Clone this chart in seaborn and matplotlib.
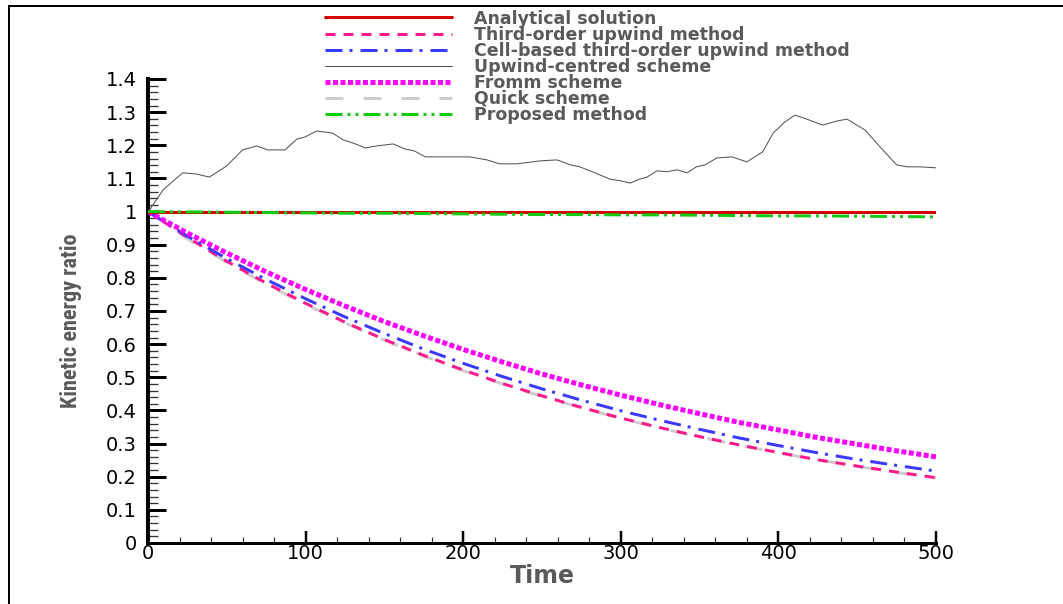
import numpy as np
import pandas as pd
import matplotlib
matplotlib.use("Agg")
import matplotlib.pyplot as plt
import seaborn as sns
from matplotlib.ticker import MultipleLocator, FixedLocator, FixedFormatter
from matplotlib.lines import Line2D
from matplotlib import font_manager

# ---------------- data ----------------
t_smooth = [0, 25, 50, 75, 100, 125, 150, 175, 200, 225, 250, 275, 300,
            325, 350, 375, 400, 425, 450, 475, 500]
analytical = [1.0] * len(t_smooth)
third_order = [1.0, 0.922, 0.850, 0.784, 0.723, 0.666, 0.614, 0.566, 0.522, 0.481,
               0.444, 0.409, 0.377, 0.348, 0.321, 0.296, 0.273, 0.251, 0.232, 0.214, 0.197]
cell_based = [1.0, 0.926, 0.858, 0.795, 0.737, 0.682, 0.632, 0.585, 0.542, 0.502,
              0.465, 0.431, 0.399, 0.370, 0.343, 0.317, 0.294, 0.272, 0.252, 0.234, 0.217]
fromm = [1.0, 0.935, 0.875, 0.818, 0.765, 0.715, 0.668, 0.625, 0.584, 0.546,
         0.510, 0.477, 0.446, 0.417, 0.390, 0.364, 0.341, 0.318, 0.298, 0.278, 0.260]
quick = [1.0, 0.918, 0.847, 0.781, 0.720, 0.664, 0.612, 0.564, 0.520, 0.480,
         0.442, 0.408, 0.376, 0.347, 0.320, 0.295, 0.272, 0.251, 0.231, 0.213, 0.196]
proposed = [1.0, 0.999, 0.998, 0.997, 0.996, 0.995, 0.995, 0.994, 0.993, 0.992,
            0.991, 0.991, 0.990, 0.990, 0.989, 0.988, 0.987, 0.987, 0.986, 0.985, 0.984]

t_upwind = [0, 1, 9.5, 22, 31, 39, 50, 60, 69, 76, 87, 94.5, 99.6, 107, 117, 124, 130,
            138, 145, 155.5, 163, 169, 176, 183, 193.5, 204, 215, 223, 234, 249, 259.5,
            268, 274, 282, 293, 299.5, 306, 312, 316.6, 323, 329, 335.7, 342, 348, 353.5,
            361, 370.5, 380, 390, 396.7, 404, 410.5, 418, 428, 437, 443.5, 455, 464.5,
            475, 481.6, 490, 500]
upwind_centred = [1.0, 1.005, 1.065, 1.117, 1.113, 1.104, 1.138, 1.186, 1.198, 1.186,
                  1.186, 1.219, 1.225, 1.243, 1.237, 1.216, 1.207, 1.192, 1.198, 1.204,
                  1.189, 1.183, 1.165, 1.165, 1.165, 1.165, 1.156, 1.144, 1.144, 1.153,
                  1.156, 1.141, 1.135, 1.120, 1.098, 1.093, 1.086, 1.098, 1.104, 1.123,
                  1.120, 1.126, 1.117, 1.135, 1.141, 1.162, 1.165, 1.150, 1.180, 1.237,
                  1.270, 1.291, 1.279, 1.261, 1.273, 1.279, 1.246, 1.195, 1.141, 1.135,
                  1.135, 1.132]

labels = ["Analytical solution", "Third-order upwind method",
          "Cell-based third-order upwind method", "Upwind-centred scheme",
          "Fromm scheme", "Quick scheme", "Proposed method"]

x_ticks = [0, 100, 200, 300, 400, 500]
x_tick_labels = ["0", "100", "200", "300", "400", "500"]
y_ticks = [0, 0.1, 0.2, 0.3, 0.4, 0.5, 0.6, 0.7, 0.8, 0.9, 1.0, 1.1, 1.2, 1.3, 1.4]
y_tick_labels = ["0", "0.1", "0.2", "0.3", "0.4", "0.5", "0.6", "0.7", "0.8", "0.9",
                 "1", "1.1", "1.2", "1.3", "1.4"]

# ---------------- style ----------------
sns.set_theme(style="white")
plt.rcParams["font.family"] = ["DejaVu Sans"]
plt.rcParams["lines.scale_dashes"] = False

# choose a condensed face for the y label if one is installed
entries = font_manager.fontManager.ttflist
names = {f.name for f in entries}
ylab_kw = dict(family=["Liberation Sans", "DejaVu Sans"], fontsize=13.3)
if "Liberation Sans Narrow" in names:
    ylab_kw = dict(family=["Liberation Sans Narrow", "DejaVu Sans"], fontsize=16)
elif "Roboto Condensed" in names:
    ylab_kw = dict(family=["Roboto Condensed", "DejaVu Sans"], fontsize=16)
elif any(f.name == "DejaVu Sans" and str(f.stretch) == "condensed" for f in entries):
    ylab_kw = dict(family=["DejaVu Sans"], fontsize=12.2, fontstretch="condensed")

txt_gray = "#5a5a5a"

fig = plt.figure(figsize=(10.63, 6.04), dpi=100)
fig.patch.set_facecolor("white")
ax = fig.add_axes([148 / 1063, 1 - 543 / 604, (936 - 148) / 1063, (543 - 79) / 604])
ax.set_facecolor("white")

smooth_df = pd.DataFrame({"t": t_smooth, "analytical": analytical, "third": third_order,
                          "cell": cell_based, "fromm": fromm, "quick": quick,
                          "proposed": proposed})
up_df = pd.DataFrame({"t": t_upwind, "v": upwind_centred})

px = 0.72  # points per pixel at 100 dpi
sns.lineplot(data=smooth_df, x="t", y="analytical", ax=ax, color="#d40000",
             lw=3 * px, label=labels[0], zorder=5)
sns.lineplot(data=smooth_df, x="t", y="third", ax=ax, color="#ff1a8c",
             lw=3 * px, linestyle=(0, (10 * px, 8 * px)), label=labels[1], zorder=4)
sns.lineplot(data=smooth_df, x="t", y="cell", ax=ax, color="#3a3aff",
             lw=3 * px, linestyle=(0, (17 * px, 7 * px, 3 * px, 8 * px)),
             label=labels[2], zorder=4)
sns.lineplot(data=up_df, x="t", y="v", ax=ax, color="#505050",
             lw=1.0 * px, label=labels[3], zorder=4)
sns.lineplot(data=smooth_df, x="t", y="fromm", ax=ax, color="#ff00ff",
             lw=5 * px, linestyle=(0, (5 * px, 2.5 * px)), label=labels[4], zorder=4)
sns.lineplot(data=smooth_df, x="t", y="quick", ax=ax, color="#cccccc",
             lw=3 * px, linestyle=(0, (18 * px, 20 * px)), label=labels[5], zorder=3)
sns.lineplot(data=smooth_df, x="t", y="proposed", ax=ax, color="#11cc11",
             lw=3 * px, linestyle=(0, (17 * px, 5 * px, 3 * px, 5 * px, 3 * px, 5 * px)),
             label=labels[6], zorder=6)

ax.set_xlim(0, 500)
ax.set_ylim(0, 1.4)
ax.xaxis.set_major_locator(FixedLocator(x_ticks))
ax.xaxis.set_major_formatter(FixedFormatter(x_tick_labels))
ax.yaxis.set_major_locator(FixedLocator(y_ticks))
ax.yaxis.set_major_formatter(FixedFormatter(y_tick_labels))
ax.xaxis.set_minor_locator(MultipleLocator(20))
ax.yaxis.set_minor_locator(MultipleLocator(0.02))

for s in ["top", "right"]:
    ax.spines[s].set_visible(False)
ax.spines["left"].set_linewidth(4 * px)
ax.spines["bottom"].set_linewidth(3 * px)
ax.spines["left"].set_color("black")
ax.spines["bottom"].set_color("black")

ax.tick_params(axis="y", which="major", direction="in", length=18 * px, width=3 * px,
               color="black", labelsize=14, pad=8, left=True)
ax.tick_params(axis="y", which="minor", direction="in", length=10 * px, width=1.3 * px,
               color="#333333", left=True)
ax.tick_params(axis="x", which="major", direction="in", length=12 * px, width=2.5 * px,
               color="black", labelsize=14, pad=1, bottom=True)
ax.tick_params(axis="x", which="minor", direction="in", length=6 * px, width=1.2 * px,
               color="#333333", bottom=True)
for lab in ax.get_xticklabels() + ax.get_yticklabels():
    lab.set_color("black")

ax.set_xlabel("Time", fontsize=17, fontweight="bold", color=txt_gray)
ax.set_ylabel("Kinetic energy ratio", fontweight="bold", color=txt_gray, **ylab_kw)
ax.xaxis.set_label_coords(0.5, -0.045)
ax.yaxis.set_label_coords(-0.084, 0.478)

handles, labs = ax.get_legend_handles_labels()
ax.get_legend().remove()
leg_fs = 12.5
leg = fig.legend(handles, labs, loc="upper left",
                 bbox_to_anchor=(325 / 1063, 1 - 9.5 / 604), frameon=False,
                 fontsize=leg_fs, handlelength=127 / (leg_fs / px), handletextpad=1.25,
                 labelspacing=-0.11, borderpad=0, borderaxespad=0)
for txt in leg.get_texts():
    txt.set_color(txt_gray)
    txt.set_fontweight("bold")

# figure frame (top and left)
fig.add_artist(Line2D([9 / 1063, 1.0], [1 - 6 / 604, 1 - 6 / 604],
                      transform=fig.transFigure, color="black", lw=2 * px))
fig.add_artist(Line2D([9 / 1063, 9 / 1063], [0.0, 1 - 6 / 604],
                      transform=fig.transFigure, color="black", lw=2 * px))

fig.savefig("out.png", dpi=100, facecolor="white")
